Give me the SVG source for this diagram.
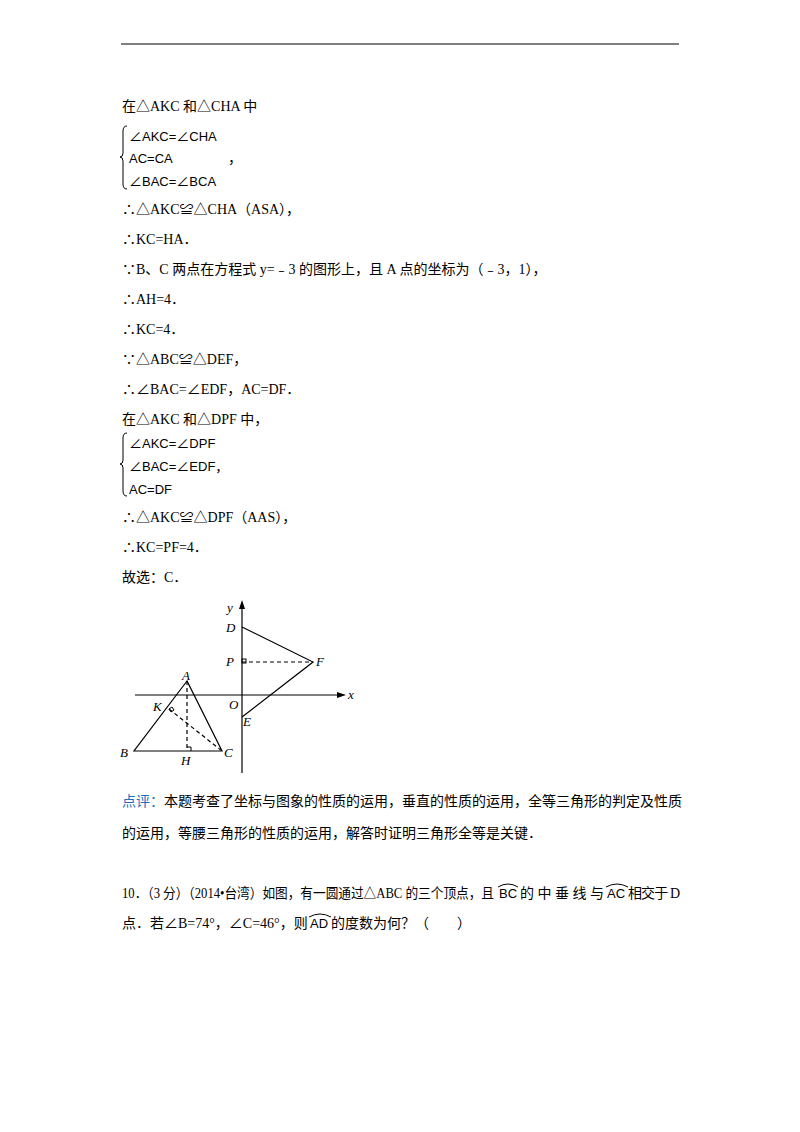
<svg xmlns="http://www.w3.org/2000/svg" width="800" height="1132" viewBox="0 0 800 1132">
<style>
text{font-family:"Liberation Serif","Noto Sans CJK SC",serif;font-size:14px;fill:#000}
.n{font-family:"Liberation Sans Narrow","Liberation Sans","Noto Sans CJK SC",sans-serif;font-size:13px}
.l{font-style:italic;font-size:13px}
.g{stroke:#000;stroke-width:1.2;fill:none}
.d{stroke-dasharray:4,3}
.b{stroke:#000;stroke-width:1;fill:none}
</style>
<rect width="800" height="1132" fill="#fff"/>
<line x1="121" y1="44" x2="679" y2="44" stroke="#000" stroke-width="1"/>
<g id="text">
<text x="122" y="111">在△AKC 和△CHA 中</text>
<path class="b" d="M127,126 q-4,0 -4,5 v22 q0,4 -3,4 q3,0 3,4 v23 q0,5 4,5"/>
<text class="n" x="129" y="141">∠AKC=∠CHA</text>
<text class="n" x="129" y="163">AC=CA</text>
<text x="228" y="163">，</text>
<text class="n" x="129" y="186">∠BAC=∠BCA</text>
<text x="122" y="214">∴△AKC≌△CHA（ASA），</text>
<text x="122" y="244">∴KC=HA．</text>
<text x="122" y="274">∵B、C 两点在方程式 y=﹣3 的图形上，且 A 点的坐标为（﹣3，1），</text>
<text x="122" y="304">∴AH=4．</text>
<text x="122" y="334">∴KC=4．</text>
<text x="122" y="364">∵△ABC≌△DEF，</text>
<text x="122" y="394">∴∠BAC=∠EDF，AC=DF．</text>
<text x="122" y="424">在△AKC 和△DPF 中，</text>
<path class="b" d="M127,433 q-4,0 -4,5 v22 q0,4 -3,4 q3,0 3,4 v23 q0,5 4,5"/>
<text class="n" x="129" y="448">∠AKC=∠DPF</text>
<text class="n" x="129" y="471">∠BAC=∠EDF，</text>
<text class="n" x="129" y="494">AC=DF</text>
<text x="122" y="522">∴△AKC≌△DPF（AAS），</text>
<text x="122" y="552">∴KC=PF=4．</text>
<text x="122" y="582">故选：C．</text>
<text x="122" y="806"><tspan fill="#1a6fc0">点评：</tspan>本题考查了坐标与图象的性质的运用，垂直的性质的运用，全等三角形的判定及性质</text>
<text x="122" y="838">的运用，等腰三角形的性质的运用，解答时证明三角形全等是关键．</text>
<text x="122" y="898" textLength="372" lengthAdjust="spacingAndGlyphs">10．（3 分）（2014•台湾）如图，有一圆通过△ABC 的三个顶点，且</text>
<text class="n" x="499" y="898">BC</text>
<text x="520" y="898" textLength="84" lengthAdjust="spacing">的中垂线与</text>
<text class="n" x="607" y="898">AC</text>
<text x="628" y="898" textLength="52" lengthAdjust="spacing">相交于 D</text>
<text x="122" y="928">点．若∠B=74°，∠C=46°，则</text>
<text class="n" x="310" y="928">AD</text>
<text x="331" y="928">的度数为何？（　　）</text>
<path class="b" d="M498,887 q10,-6 20,0 M606,887 q11,-6 22,0 M309,917 q11,-6 22,0"/>
</g>
<g id="figure">
<line class="g" x1="242" y1="604" x2="242" y2="773"/>
<path d="M242,600 l-3,9 h6z"/>
<line class="g" x1="135" y1="695" x2="340" y2="695"/>
<path d="M346,695 l-9,-3 v6z"/>
<path class="g" d="M242,627 L313,662 L242,717"/>
<line class="g d" x1="242" y1="662" x2="313" y2="662"/>
<rect x="242" y="659" width="4" height="4" class="b"/>
<path class="g" d="M187,681 L134,751 L222,751 Z"/>
<line class="g d" x1="187" y1="681" x2="187" y2="751"/>
<line class="g d" x1="169" y1="709" x2="222" y2="751"/>
<path class="b" d="M187,747 h4 v4"/>
<path class="b" d="M169,709 l3,-2 l2,3 l-3,2z"/>
<text class="l" x="227" y="612">y</text>
<text class="l" x="226" y="632">D</text>
<text class="l" x="226" y="666">P</text>
<text class="l" x="316" y="666">F</text>
<text class="l" x="182" y="680">A</text>
<text class="l" x="348" y="699">x</text>
<text class="l" x="229" y="709">O</text>
<text class="l" x="153" y="711">K</text>
<text class="l" x="243" y="726">E</text>
<text class="l" x="120" y="757">B</text>
<text class="l" x="224" y="757">C</text>
<text class="l" x="181" y="765">H</text>
</g>
</svg>
